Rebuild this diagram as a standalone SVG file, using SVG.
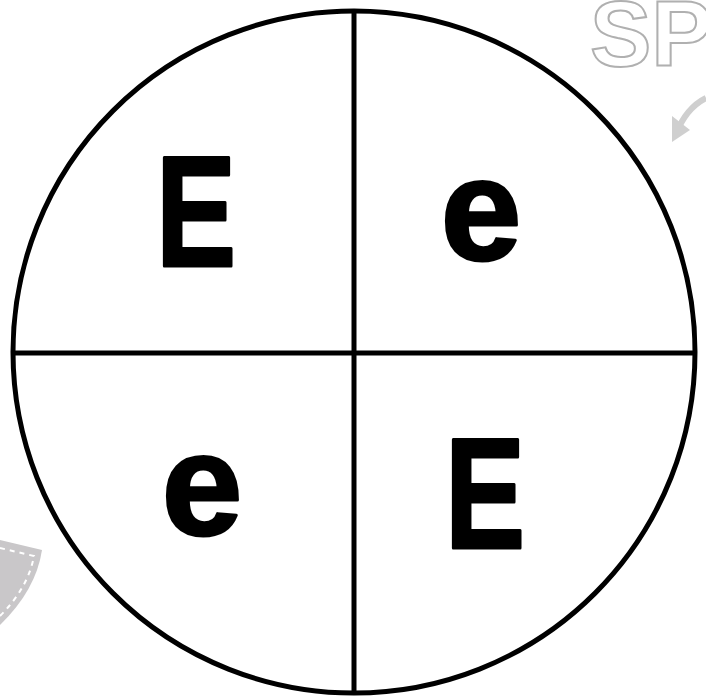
<svg xmlns="http://www.w3.org/2000/svg" width="706" height="698" viewBox="0 0 706 698">
<style>
.ln{stroke:#000;stroke-width:5;fill:none}
.big{font-family:"Liberation Sans",Arial,sans-serif;font-weight:bold;fill:#000;stroke:#000;stroke-width:3;stroke-linejoin:round;text-anchor:middle}
</style>
<rect width="706" height="698" fill="#fff"/>
<g id="decor">
<text x="590" y="66" font-family="Liberation Sans, Arial, sans-serif" font-weight="bold" font-size="92" fill="#fff" stroke="#b0b0b0" stroke-width="2">SP</text>
<path d="M706 98 Q686 108 676 134" stroke="#cfcfcf" stroke-width="6" fill="none"/>
<path d="M672 142 L672 116 L690 130 Z" fill="#cfcfcf"/>
<path d="M0 540 L42 550 Q36 590 0 625 Z" fill="#c9c7c9"/>
<path d="M0 548 L34 556 Q28 588 0 616" stroke="#fff" stroke-width="2" stroke-dasharray="5 5" fill="none"/>
</g>
<g id="circle">
<circle cx="354" cy="352" r="341" class="ln"/>
</g>
<g id="connectors">
<line x1="354" y1="11" x2="354" y2="693" class="ln"/>
<line x1="13" y1="353" x2="695" y2="353" class="ln"/>
</g>
<g id="q1"><text class="big" font-size="158" transform="translate(196 266) scale(0.76 1)">E</text></g>
<g id="q2"><text class="big" font-size="145" x="481" y="260">e</text></g>
<g id="q3"><text class="big" font-size="145" x="202" y="535">e</text></g>
<g id="q4"><text class="big" font-size="158" transform="translate(485 548) scale(0.76 1)">E</text></g>
</svg>
